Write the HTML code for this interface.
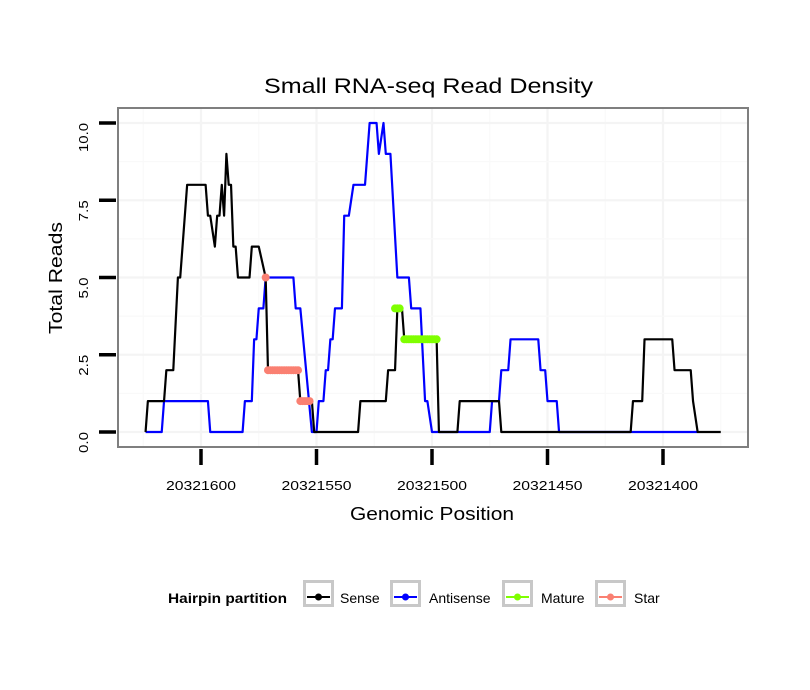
<!DOCTYPE html>
<html><head><meta charset="utf-8"><style>
body{margin:0;background:#fff;}
svg{display:block;font-family:"Liberation Sans",sans-serif;}
</style></head><body>
<svg id="chart" width="810" height="690" viewBox="0 0 810 690">
<rect x="0" y="0" width="810" height="690" fill="#fff"/>
<g id="grid"></g>
<g id="series"></g>
<rect x="118" y="108" width="630" height="339" fill="none" stroke="#7f7f7f" stroke-width="2"/>
<g id="axes"></g>
<text x="428.5" y="93" font-size="21" text-anchor="middle" textLength="329" lengthAdjust="spacingAndGlyphs" fill="#000">Small RNA-seq Read Density</text>
<text x="432" y="520" font-size="18" text-anchor="middle" textLength="164" lengthAdjust="spacingAndGlyphs" fill="#000">Genomic Position</text>
<text transform="translate(62,278) rotate(-90)" font-size="18" text-anchor="middle" textLength="112" lengthAdjust="spacingAndGlyphs" fill="#000">Total Reads</text>
<g>
<text x="168" y="603" font-size="14" font-weight="bold" textLength="119" lengthAdjust="spacingAndGlyphs" fill="#000">Hairpin partition</text>
<g>
<rect x="304.5" y="581.5" width="28" height="24" fill="#fff" stroke="#c8c8c8" stroke-width="3"/>
<line x1="307" y1="597" x2="330" y2="597" stroke="#000" stroke-width="2"/><circle cx="318.5" cy="597" r="3.5" fill="#000"/>
<text x="340" y="603" font-size="14">Sense</text></g>
<g>
<rect x="391.5" y="581.5" width="28" height="24" fill="#fff" stroke="#c8c8c8" stroke-width="3"/>
<line x1="394" y1="597" x2="417" y2="597" stroke="#0000ff" stroke-width="2"/><circle cx="405.5" cy="597" r="3.5" fill="#0000ff"/>
<text x="429" y="603" font-size="14">Antisense</text></g>
<g>
<rect x="503.5" y="581.5" width="28" height="24" fill="#fff" stroke="#c8c8c8" stroke-width="3"/>
<line x1="506" y1="597" x2="529" y2="597" stroke="#7fff00" stroke-width="2"/><circle cx="517.5" cy="597" r="3.5" fill="#7fff00"/>
<text x="541" y="603" font-size="14">Mature</text></g>
<g>
<rect x="596.5" y="581.5" width="28" height="24" fill="#fff" stroke="#c8c8c8" stroke-width="3"/>
<line x1="599" y1="597" x2="622" y2="597" stroke="#fa8072" stroke-width="2"/><circle cx="610.5" cy="597" r="3.5" fill="#fa8072"/>
<text x="634" y="603" font-size="14">Star</text></g>
</g>
</svg>
<script>
const xTicks = [20321600, 20321550, 20321500, 20321450, 20321400];
const yTicks = [0, 2.5, 5, 7.5, 10];
const yTickLabels = ["0.0", "2.5", "5.0", "7.5", "10.0"];
const sensePos = [20321624,20321623,20321616,20321615,20321612,20321610,20321609,20321606,20321598,20321597,20321596,20321594,20321593,20321592,20321591,20321590,20321589,20321588,20321587,20321586,20321585,20321584,20321579,20321578,20321575,20321572,20321571,20321558,20321557,20321552,20321551,20321532,20321531,20321520,20321519,20321516,20321515,20321513,20321512,20321498,20321497,20321489,20321488,20321471,20321470,20321414,20321413,20321409,20321408,20321396,20321395,20321388,20321387,20321385,20321375];
const senseVal = [0,1,1,2,2,5,5,8,8,7,7,6,7,7,8,7,9,8,8,6,6,5,5,6,6,5,2,2,1,1,0,0,1,1,2,2,4,4,3,3,0,0,1,1,0,0,1,1,3,3,2,2,1,0,0];
const antiPos = [20321624,20321617,20321616,20321597,20321596,20321582,20321581,20321578,20321577,20321576,20321575,20321573,20321572,20321560,20321559,20321557,20321552,20321550,20321549,20321547,20321546,20321545,20321544,20321543,20321542,20321539,20321538,20321536,20321534,20321529,20321528,20321527,20321524,20321523,20321521,20321520,20321518,20321515,20321510,20321509,20321505,20321503,20321502,20321500,20321475,20321474,20321471,20321470,20321467,20321466,20321454,20321453,20321451,20321450,20321446,20321445,20321385];
const antiVal = [0,0,1,1,0,0,1,1,3,3,4,4,5,5,4,4,0,0,1,1,2,2,3,3,4,4,7,7,8,8,9,10,10,9,10,9,9,5,5,4,4,1,1,0,0,1,1,2,2,3,3,2,2,1,1,0,0];
const maturePos = [20321516,20321515,20321514,20321512,20321511,20321510,20321509,20321508,20321507,20321506,20321505,20321504,20321503,20321502,20321501,20321500,20321499,20321498];
const matureVal = [4,4,4,3,3,3,3,3,3,3,3,3,3,3,3,3,3,3];
const starPos = [20321572,20321571,20321570,20321569,20321568,20321567,20321566,20321565,20321564,20321563,20321562,20321561,20321560,20321559,20321558,20321557,20321556,20321555,20321554,20321553];
const starVal = [5,2,2,2,2,2,2,2,2,2,2,2,2,2,2,1,1,1,1,1];

const NS='http://www.w3.org/2000/svg';
function xs(p){ return 201 + (20321600 - p) * 2.31; }
function ys(v){ return 432 - v * 30.9; }
function mk(tag, attrs, parent){ const e=document.createElementNS(NS,tag); for(const k in attrs) e.setAttribute(k,attrs[k]); parent.appendChild(e); return e; }

const grid=document.getElementById('grid');
const gs='#f4f4f4';
for(let i=0;i<xTicks.length;i++){
  const l=mk('line',{x1:xs(xTicks[i]),x2:xs(xTicks[i]),y1:108,y2:447,stroke:gs,'stroke-width':2.2},grid);
  
  
}
for(let i=0;i<=xTicks.length;i++){
  const p = i<xTicks.length ? xTicks[i]+25 : xTicks[xTicks.length-1]-25;
  const l=mk('line',{x1:xs(p),x2:xs(p),y1:108,y2:447,stroke:'#f9f9f9','stroke-width':1.2},grid);
  
  
}
for(let i=0;i<yTicks.length;i++){
  const l=mk('line',{x1:118,x2:748,y1:ys(yTicks[i]),y2:ys(yTicks[i]),stroke:gs,'stroke-width':2.2},grid);
  
  
  if(i<yTicks.length-1){
    const m=mk('line',{x1:118,x2:748,y1:ys(yTicks[i]+1.25),y2:ys(yTicks[i]+1.25),stroke:'#f9f9f9','stroke-width':1.2},grid);
    
    
  }
}

const series=document.getElementById('series');
function line(pos, val, color, name){
  const d=pos.map((p,i)=>(i?'L':'M')+xs(p).toFixed(2)+','+ys(val[i]).toFixed(2)).join('');
  const e=mk('path',{d:d,fill:'none',stroke:color,'stroke-width':2.2,'stroke-linejoin':'round'},series);
  
  
}
function pts(pos, val, color, name){
  for(let i=0;i<pos.length;i++){
    const c=mk('circle',{cx:xs(pos[i]),cy:ys(val[i]),r:4,fill:color},series);
    
    
  }
}
line(antiPos, antiVal, '#0000ff', 'antisense-line');
line(sensePos, senseVal, '#000000', 'sense-line');
pts(maturePos, matureVal, '#7fff00', 'mature-point');
pts(starPos, starVal, '#fa8072', 'star-point');

const axes=document.getElementById('axes');
for(let i=0;i<xTicks.length;i++){
  const x=xs(xTicks[i]);
  const t=mk('line',{x1:x,x2:x,y1:449,y2:465,stroke:'#000','stroke-width':3.5},axes);
  
  
  const tx=mk('text',{x:x,y:490,'font-size':13,'text-anchor':'middle',textLength:70,lengthAdjust:'spacingAndGlyphs',fill:'#000'},axes);
  tx.textContent=xTicks[i];
  
  
}
for(let i=0;i<yTicks.length;i++){
  const y=ys(yTicks[i]);
  const t=mk('line',{x1:99,x2:116,y1:y,y2:y,stroke:'#000','stroke-width':3.5},axes);
  
  
  const len = yTickLabels[i].length===4 ? 29 : 21;
  const tx=mk('text',{transform:'translate(88,'+y+') rotate(-90)','font-size':13,'text-anchor':'end',textLength:len,lengthAdjust:'spacingAndGlyphs',fill:'#000'},axes);
  tx.textContent=yTickLabels[i];
  
  
}
</script>
</body></html>
